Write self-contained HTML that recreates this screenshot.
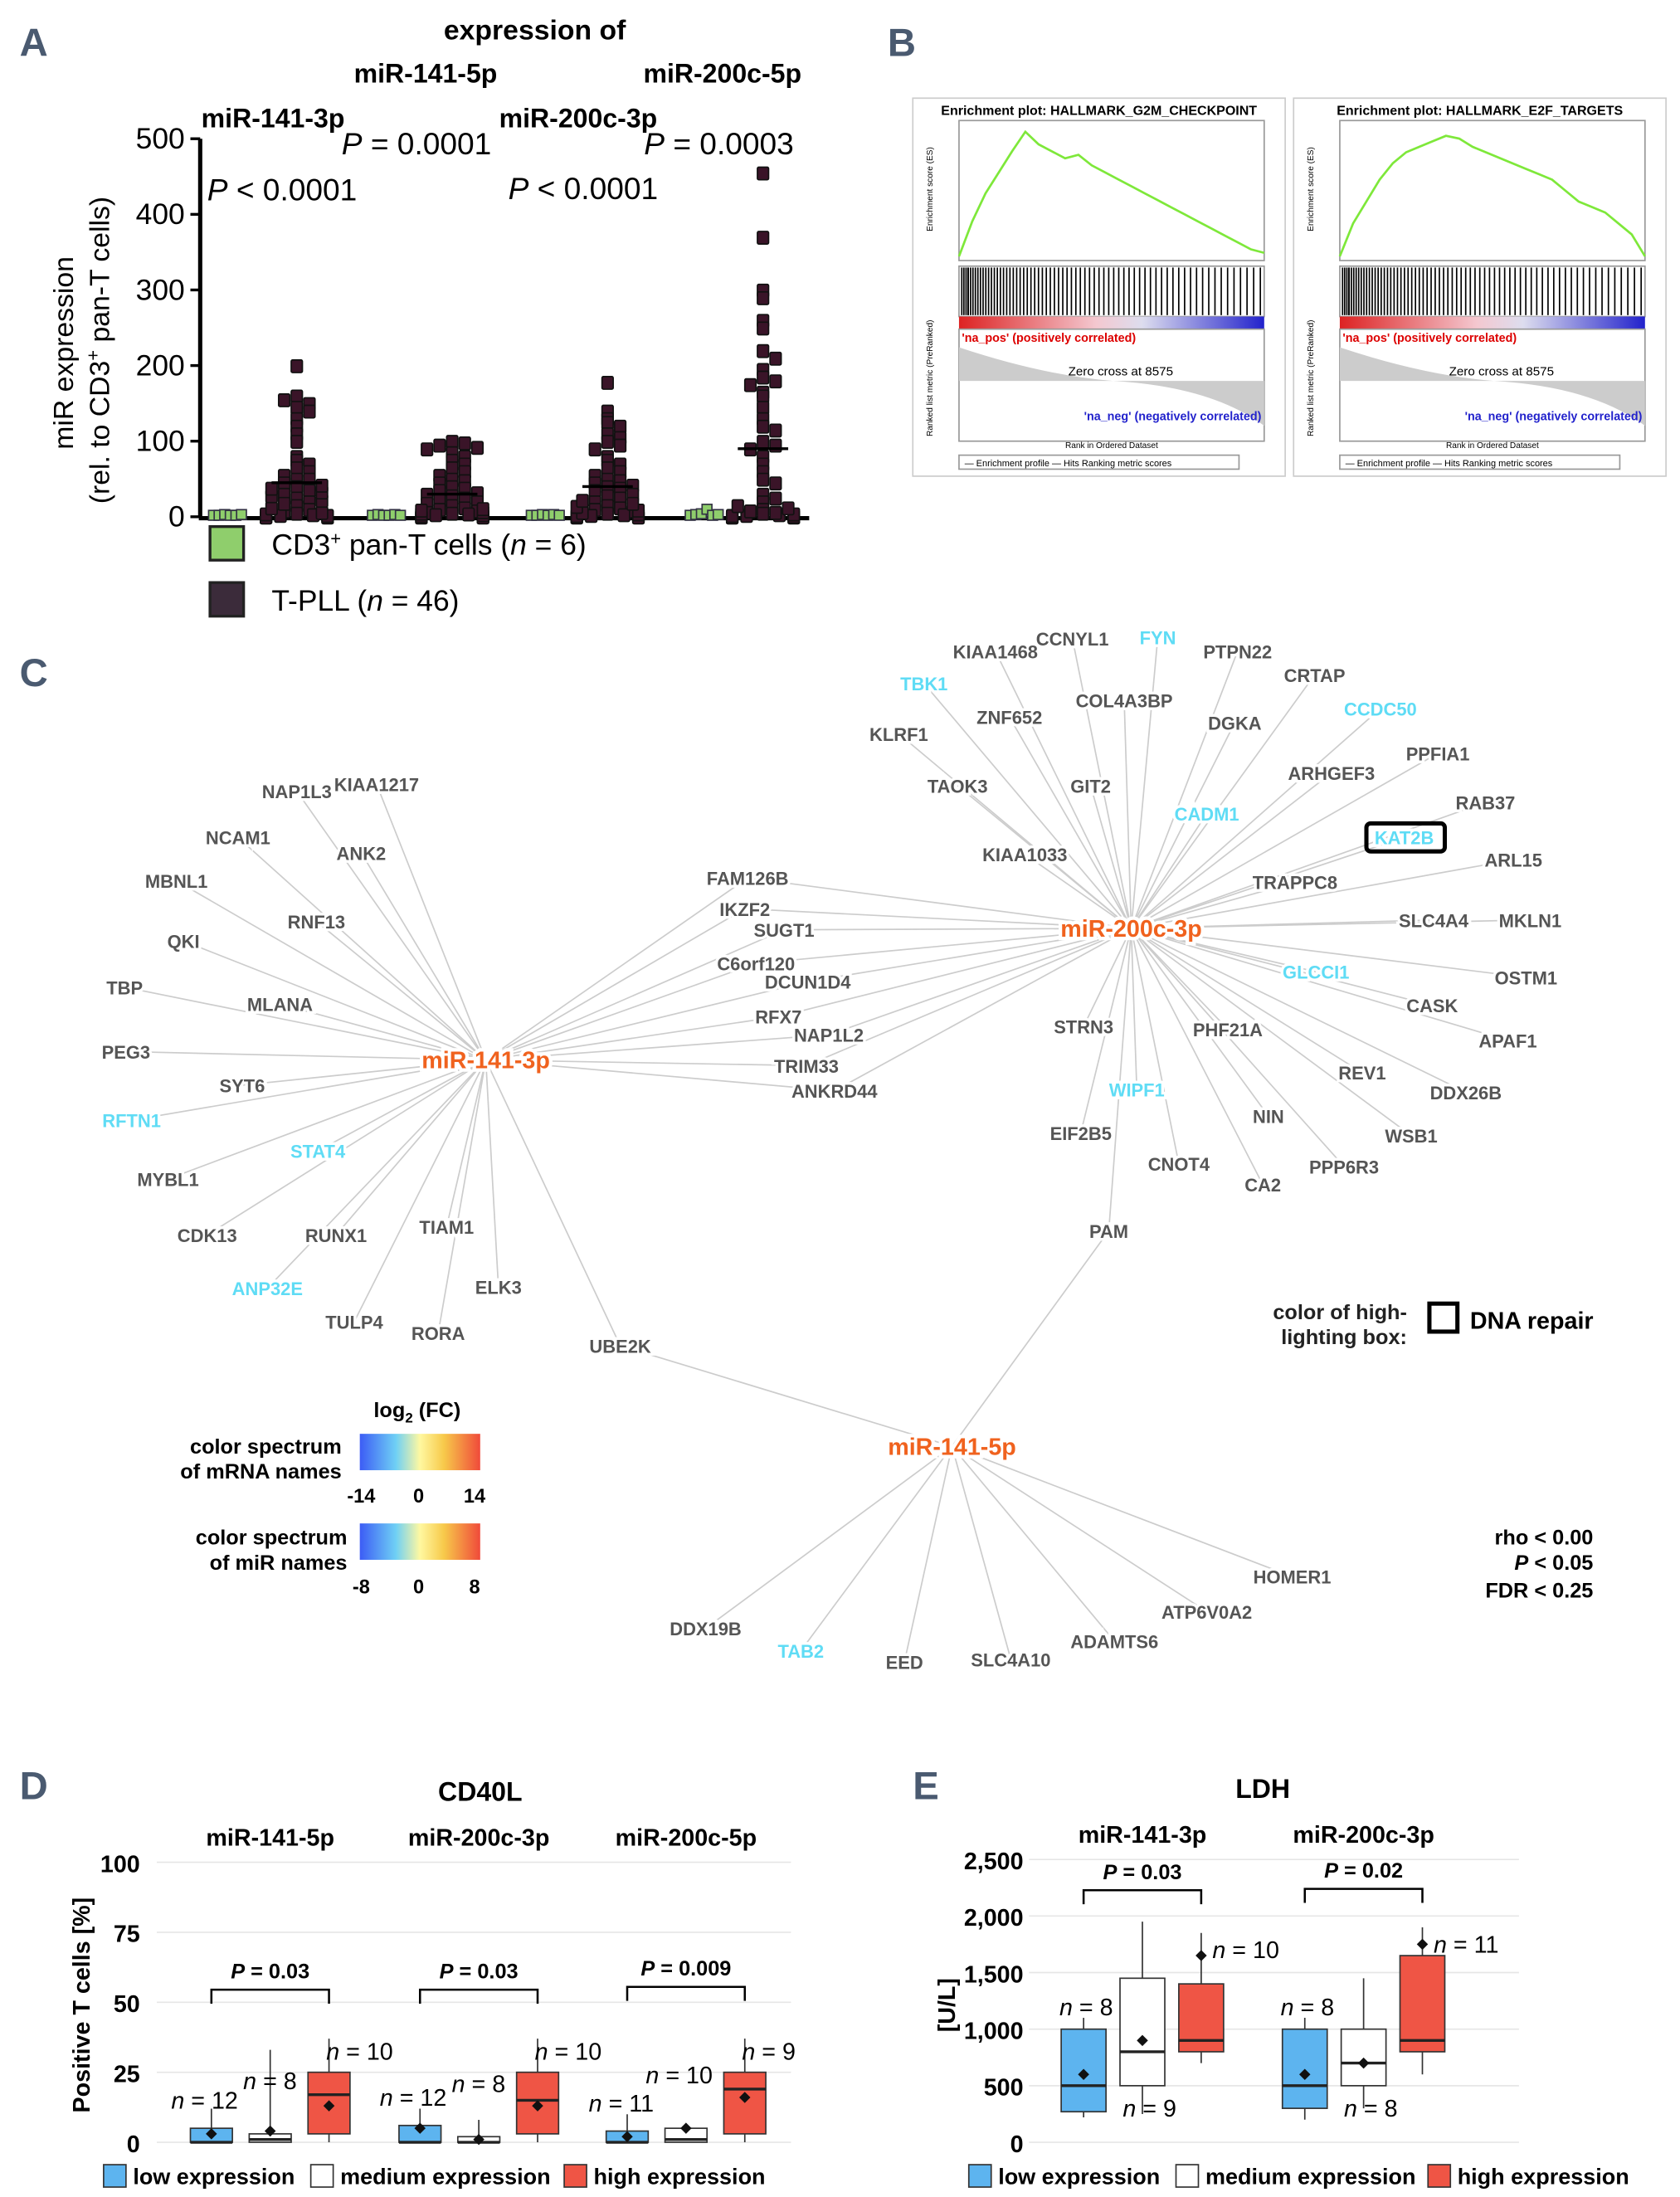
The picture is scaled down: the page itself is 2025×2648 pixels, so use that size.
<!DOCTYPE html>
<html><head><meta charset="utf-8"><style>
html,body{margin:0;padding:0;background:#fff;}
svg{display:block;font-family:"Liberation Sans",Arial,sans-serif;}
.lbl{font-size:13px;font-weight:bold;fill:#555;paint-order:stroke;stroke:#fff;stroke-width:4px;}
.cy{fill:#5fdcf5;}
.hub{font-size:17px;font-weight:bold;fill:#f0621e;paint-order:stroke;stroke:#fff;stroke-width:5px;}
.pl{font-family:"Liberation Sans Narrow","Liberation Sans",sans-serif;font-size:28px;font-weight:bold;fill:#4a5a70;}
</style></head><body>
<svg id="fig" width="2025" height="2648" viewBox="0 0 1200 1569" xmlns="http://www.w3.org/2000/svg">
<text class="pl" x="14" y="40">A</text>
<text class="pl" x="634" y="40">B</text>
<text class="pl" x="14" y="490">C</text>
<text class="pl" x="14" y="1285">D</text>
<text class="pl" x="652" y="1285">E</text>

<!-- Panel A -->
<g id="pa">
<text x="382" y="28" font-size="20" font-weight="bold" text-anchor="middle">expression of</text>
<text x="195" y="91" font-size="19" font-weight="bold" text-anchor="middle">miR-141-3p</text>
<text x="304" y="59" font-size="19" font-weight="bold" text-anchor="middle">miR-141-5p</text>
<text x="413" y="91" font-size="19" font-weight="bold" text-anchor="middle">miR-200c-3p</text>
<text x="516" y="59" font-size="19" font-weight="bold" text-anchor="middle">miR-200c-5p</text>
<text x="148" y="143" font-size="22"><tspan font-style="italic">P</tspan> &lt; 0.0001</text>
<text x="244" y="110" font-size="22"><tspan font-style="italic">P</tspan> = 0.0001</text>
<text x="363" y="142" font-size="22"><tspan font-style="italic">P</tspan> &lt; 0.0001</text>
<text x="460" y="110" font-size="22"><tspan font-style="italic">P</tspan> = 0.0003</text>
<text transform="translate(52,252) rotate(-90)" font-size="20" text-anchor="middle">miR expression</text>
<text transform="translate(78,250) rotate(-90)" font-size="20" text-anchor="middle">(rel. to CD3<tspan baseline-shift="super" font-size="13">+</tspan> pan-T cells)</text>
<g id="aAxis"></g>
<g id="aPts"></g>
<rect x="150" y="376" width="24" height="24" fill="#8fce6c" stroke="#222" stroke-width="2"/>
<text x="194" y="396" font-size="21">CD3<tspan baseline-shift="super" font-size="13">+</tspan> pan-T cells (<tspan font-style="italic">n</tspan> = 6)</text>
<rect x="150" y="416" width="24" height="24" fill="#3b2b3a" stroke="#222" stroke-width="2"/>
<text x="194" y="436" font-size="21">T-PLL (<tspan font-style="italic">n</tspan> = 46)</text>
</g>

<!-- Panel B -->
<g id="pb"></g>

<!-- Panel C -->
<g id="pc">
<g id="cLines"></g><g id="cLabels"></g>
<text class="hub" x="347" y="763" text-anchor="middle">miR-141-3p</text>
<text class="hub" x="808" y="669" text-anchor="middle">miR-200c-3p</text>
<text class="hub" x="680" y="1039" text-anchor="middle">miR-141-5p</text>
<rect x="976" y="588" width="56" height="20" rx="3" fill="none" stroke="#000" stroke-width="3"/>
<text x="1005" y="942" font-size="15" font-weight="bold" text-anchor="end" fill="#222">color of high-</text>
<text x="1005" y="960" font-size="15" font-weight="bold" text-anchor="end" fill="#222">lighting box:</text>
<rect x="1021" y="931" width="20" height="20" fill="none" stroke="#000" stroke-width="3"/>
<text x="1050" y="949" font-size="17" font-weight="bold">DNA repair</text>
<defs><linearGradient id="sp" x1="0" x2="1"><stop offset="0" stop-color="#3c5cf5"/><stop offset="0.3" stop-color="#6fd0f5"/><stop offset="0.5" stop-color="#fff8a0"/><stop offset="0.7" stop-color="#f7c94a"/><stop offset="1" stop-color="#f04a3a"/></linearGradient></defs>
<text x="298" y="1012" font-size="15" font-weight="bold" text-anchor="middle">log<tspan font-size="10" dy="4">2</tspan><tspan dy="-4"> (FC)</tspan></text>
<text x="244" y="1038" font-size="15" font-weight="bold" text-anchor="end">color spectrum</text>
<text x="244" y="1056" font-size="15" font-weight="bold" text-anchor="end">of mRNA names</text>
<rect x="257" y="1024" width="86" height="26" fill="url(#sp)"/>
<text x="258" y="1073" font-size="14" font-weight="bold" text-anchor="middle">-14</text>
<text x="299" y="1073" font-size="14" font-weight="bold" text-anchor="middle">0</text>
<text x="339" y="1073" font-size="14" font-weight="bold" text-anchor="middle">14</text>
<text x="248" y="1103" font-size="15" font-weight="bold" text-anchor="end">color spectrum</text>
<text x="248" y="1121" font-size="15" font-weight="bold" text-anchor="end">of miR names</text>
<rect x="257" y="1088" width="86" height="26" fill="url(#sp)"/>
<text x="258" y="1138" font-size="14" font-weight="bold" text-anchor="middle">-8</text>
<text x="299" y="1138" font-size="14" font-weight="bold" text-anchor="middle">0</text>
<text x="339" y="1138" font-size="14" font-weight="bold" text-anchor="middle">8</text>
<text x="1138" y="1103" font-size="15" font-weight="bold" text-anchor="end">rho &lt; 0.00</text>
<text x="1138" y="1121" font-size="15" font-weight="bold" text-anchor="end"><tspan font-style="italic">P</tspan> &lt; 0.05</text>
<text x="1138" y="1141" font-size="15" font-weight="bold" text-anchor="end">FDR &lt; 0.25</text>
</g>

<!-- Panel D -->
<g id="pd">
<text x="343" y="1286" font-size="19" font-weight="bold" text-anchor="middle">CD40L</text>
<text transform="translate(64,1432) rotate(-90)" font-size="17" font-weight="bold" text-anchor="middle">Positive T cells [%]</text>
<g id="dG"></g>
</g>
<!-- Panel E -->
<g id="pe">
<text x="902" y="1284" font-size="19" font-weight="bold" text-anchor="middle">LDH</text>
<text transform="translate(682,1432) rotate(-90)" font-size="17" font-weight="bold" text-anchor="middle">[U/L]</text>
<g id="eG"></g>
</g>
<g id="legDE"></g>
</svg>
<script>
const NS="http://www.w3.org/2000/svg";
function mk(p,t,a,txt){const e=document.createElementNS(NS,t);for(const k in a)e.setAttribute(k,a[k]);if(txt!==undefined)e.textContent=txt;p.appendChild(e);return e;}
const $=id=>document.getElementById(id);

// ---------- Panel A data ----------
const aTicks=[0,100,200,300,400,500];
const aGroups=["miR-141-3p","miR-141-5p","miR-200c-3p","miR-200c-5p"];
const aMeans=[45,30,40,90];
const aCtrl141_3p=[1,1,2,1,1,2];
const aCtrl141_5p=[1,2,1,1,2,1];
const aCtrl200c_3p=[1,1,2,1,2,1];
const aCtrl200c_5p=[1,2,3,9,1,2];
const aT141_3p=[200,160,150,145,140,155,130,120,110,100,80,75,70,65,60,55,50,50,45,40,35,30,25,20,15,10,8,5,3,2,1,0,0,0,0,0,2,4,6,12,18,22,28,33,38,42];
const aT141_5p=[100,98,95,92,90,85,80,75,70,65,60,55,50,48,45,40,38,35,32,30,28,25,22,20,18,15,12,10,8,6,5,4,3,2,1,1,0,0,0,0,2,3,5,7,9,11];
const aT200c_3p=[178,140,130,125,120,110,105,100,95,90,80,75,70,65,60,55,50,48,45,42,40,38,35,30,28,25,20,15,12,10,8,5,3,2,1,0,0,0,0,2,4,6,9,14,18,22];
const aT200c_5p=[455,370,300,290,260,250,220,210,195,185,180,175,165,160,145,130,120,115,100,95,90,80,70,60,50,45,30,20,10,5,3,2,1,0,0,0,0,0,1,2,4,6,8,12,15,25];
const aCtrl=[aCtrl141_3p,aCtrl141_5p,aCtrl200c_3p,aCtrl200c_5p];
const aTum=[aT141_3p,aT141_5p,aT200c_3p,aT200c_5p];
const ay=v=>369-v*0.54;
const axC=i=>162+i*113.5, axT=i=>212+i*111;
(function(){
 const g=$('aAxis');
 mk(g,'line',{x1:143,y1:99,x2:143,y2:370,stroke:'#000','stroke-width':3,});
 mk(g,'line',{x1:142,y1:370,x2:578,y2:370,stroke:'#000','stroke-width':3,});
 aTicks.forEach(t=>{mk(g,'line',{x1:136,x2:143,y1:ay(t),y2:ay(t),stroke:'#000','stroke-width':2});
  const tx=mk(g,'text',{x:132,y:ay(t)+7,'font-size':21,'text-anchor':'end'},t);
  
  });
 const p=$('aPts');
 aGroups.forEach((gname,i)=>{
  aCtrl[i].forEach((v,j)=>{const r=mk(p,'rect',{x:axC(i)-11+j*4-2,y:ay(v)-4,width:7,height:7,fill:'#8fce6c',stroke:'#334','stroke-width':1});
   
   });
  const cnt={};
  aTum[i].forEach((v,j)=>{const b=Math.round(v/12);cnt[b]=(cnt[b]||0)+1;const k=cnt[b]-1;
   const off=(k%2?1:-1)*Math.ceil(k/2)*9*(v<5?1.3:1);
   const r=mk(p,'rect',{x:axT(i)+Math.max(-22,Math.min(22,off))-4,y:ay(v)-4,width:8,height:9,fill:'#3a1428',stroke:'#111','stroke-width':1,rx:1});
   
   });
  const m=mk(p,'line',{x1:axT(i)-18,x2:axT(i)+18,y1:ay(aMeans[i]),y2:ay(aMeans[i]),stroke:'#000','stroke-width':2});
  
  
 });
})();

// ---------- Panel B ----------
const bTitles=["Enrichment plot: HALLMARK_G2M_CHECKPOINT","Enrichment plot: HALLMARK_E2F_TARGETS"];
const bES1=[0,0.05,0.09,0.12,0.15,0.178,0.16,0.15,0.14,0.145,0.13,0.12,0.11,0.1,0.09,0.08,0.07,0.06,0.05,0.04,0.03,0.02,0.01,0.005];
const bES2=[0,0.06,0.1,0.14,0.17,0.19,0.2,0.21,0.22,0.215,0.2,0.19,0.18,0.17,0.16,0.15,0.14,0.12,0.1,0.09,0.08,0.06,0.04,0.0];
const bMax=[0.18,0.23];
(function(){
 const g=$('pb');const xs=[652,924];const ess=[bES1,bES2];
 xs.forEach((x0,k)=>{
  const w=266;
  mk(g,'rect',{x:x0,y:70,width:w,height:270,fill:'#fff',stroke:'#ccc'});
  mk(g,'text',{x:x0+w/2,y:82,'font-size':9.5,'font-weight':'bold','text-anchor':'middle'},bTitles[k]);
  const px=x0+33, pw=218;
  mk(g,'rect',{x:px,y:86,width:pw,height:100,fill:'none',stroke:'#999'});
  const es=ess[k];
  const pts=es.map((v,i)=>(px+i*pw/(es.length-1))+','+(183-v/bMax[k]*90)).join(' ');
  const pl=mk(g,'polyline',{points:pts,fill:'none',stroke:'#7ee83a','stroke-width':1.6});
  
  
  mk(g,'rect',{x:px,y:190,width:pw,height:36,fill:'#fff',stroke:'#999'});
  for(let i=0;i<70;i++){const xx=px+2+(i*i*0.025+i*1.5)%pw*0.98;mk(g,'line',{x1:xx,x2:xx,y1:191,y2:225,stroke:'#000','stroke-width':1});}
  const gr=mk(g,'defs',{});const lg=mk(gr,'linearGradient',{id:'hm'+k});
  mk(lg,'stop',{offset:0,'stop-color':'#d22'});mk(lg,'stop',{offset:0.45,'stop-color':'#f4c8d0'});mk(lg,'stop',{offset:0.6,'stop-color':'#dde'});mk(lg,'stop',{offset:1,'stop-color':'#22c'});
  mk(g,'rect',{x:px,y:226,width:pw,height:9,fill:'url(#hm'+k+')'});
  mk(g,'rect',{x:px,y:235,width:pw,height:80,fill:'none',stroke:'#999'});
  mk(g,'path',{d:`M${px},248 Q${px+60},268 ${px+110},272 Q${px+180},276 ${px+pw},304 L${px+pw},272 L${px},272Z`,fill:'#ccc'});
  mk(g,'text',{x:px+2,y:244,'font-size':8.5,'font-weight':'bold',fill:'#d00'},"'na_pos' (positively correlated)");
  mk(g,'text',{x:px+78,y:268,'font-size':9},"Zero cross at 8575");
  mk(g,'text',{x:px+pw-2,y:300,'font-size':8.5,'font-weight':'bold',fill:'#22c','text-anchor':'end'},"'na_neg' (negatively correlated)");
  mk(g,'text',{x:px+pw/2,y:320,'font-size':6,'text-anchor':'middle'},"Rank in Ordered Dataset");
  mk(g,'rect',{x:px,y:325,width:200,height:10,fill:'#fff',stroke:'#999'});
  mk(g,'text',{x:px+4,y:333,'font-size':6.5},"— Enrichment profile — Hits        Ranking metric scores");
  mk(g,'text',{transform:`translate(${x0+14},135) rotate(-90)`,'font-size':6,'text-anchor':'middle'},"Enrichment score (ES)");
  mk(g,'text',{transform:`translate(${x0+14},270) rotate(-90)`,'font-size':6,'text-anchor':'middle'},"Ranked list metric (PreRanked)");
 });
})();

// ---------- Panel C ----------
const cNodes=[
["NAP1L3",212,570,0,"a"],["KIAA1217",269,565,0,"a"],["NCAM1",170,603,0,"a"],["ANK2",258,614,0,"a"],["MBNL1",126,634,0,"a"],["RNF13",226,663,0,"a"],["QKI",131,677,0,"a"],["TBP",89,710,0,"a"],["MLANA",200,722,0,"a"],["PEG3",90,756,0,"a"],["SYT6",173,780,0,"a"],["RFTN1",94,805,1,"a"],["STAT4",227,827,1,"a"],["MYBL1",120,847,0,"a"],["CDK13",148,887,0,"a"],["RUNX1",240,887,0,"a"],["TIAM1",319,881,0,"a"],["ANP32E",191,925,1,"a"],["ELK3",356,924,0,"a"],["TULP4",253,949,0,"a"],["RORA",313,957,0,"a"],["UBE2K",443,966,0,"ac"],
["FAM126B",534,632,0,"ab"],["IKZF2",532,654,0,"ab"],["SUGT1",560,669,0,"ab"],["C6orf120",540,693,0,"ab"],["DCUN1D4",577,706,0,"ab"],["RFX7",556,731,0,"ab"],["NAP1L2",592,744,0,"ab"],["TRIM33",576,766,0,"ab"],["ANKRD44",596,784,0,"ab"],
["KIAA1468",711,470,0,"b"],["CCNYL1",766,461,0,"b"],["FYN",827,460,1,"b"],["PTPN22",884,470,0,"b"],["TBK1",660,493,1,"b"],["CRTAP",939,487,0,"b"],["COL4A3BP",803,505,0,"b"],["ZNF652",721,517,0,"b"],["DGKA",882,521,0,"b"],["CCDC50",986,511,1,"b"],["KLRF1",642,529,0,"b"],["PPFIA1",1027,543,0,"b"],["TAOK3",684,566,0,"b"],["GIT2",779,566,0,"b"],["ARHGEF3",951,557,0,"b"],["CADM1",862,586,1,"b"],["RAB37",1061,578,0,"b"],["KAT2B",1003,603,1,"b"],["KIAA1033",732,615,0,"b"],["ARL15",1081,619,0,"b"],["TRAPPC8",925,635,0,"b"],["SLC4A4",1024,662,0,"b"],["MKLN1",1093,662,0,"b"],["GLCCI1",940,699,1,"b"],["OSTM1",1090,703,0,"b"],["CASK",1023,723,0,"b"],["STRN3",774,738,0,"b"],["PHF21A",877,740,0,"b"],["APAF1",1077,748,0,"b"],["REV1",973,771,0,"b"],["WIPF1",812,783,1,"b"],["DDX26B",1047,785,0,"b"],["EIF2B5",772,814,0,"b"],["NIN",906,802,0,"b"],["WSB1",1008,816,0,"b"],["CNOT4",842,836,0,"b"],["PPP6R3",960,838,0,"b"],["CA2",902,851,0,"b"],["PAM",792,884,0,"bc"],
["HOMER1",923,1131,0,"c"],["ATP6V0A2",862,1156,0,"c"],["ADAMTS6",796,1177,0,"c"],["SLC4A10",722,1190,0,"c"],["EED",646,1192,0,"c"],["TAB2",572,1184,1,"c"],["DDX19B",504,1168,0,"c"]];
const cHubs={a:[347,757],b:[808,663],c:[680,1033]};
(function(){
 const L=$('cLines'),T=$('cLabels');
 cNodes.forEach(n=>{
  for(const h of n[4]){const l=mk(L,'line',{x1:n[1],y1:n[2]-5,x2:cHubs[h][0],y2:cHubs[h][1],stroke:'#ccc','stroke-width':1});
   
   }
  const t=mk(T,'text',{x:n[1],y:n[2],class:'lbl'+(n[3]?' cy':''),'text-anchor':'middle'},n[0]);
  
  
 });
})();

// ---------- Panel D/E box plots ----------
const dTicks=[0,25,50,75,100];
const dGroups=["miR-141-5p","miR-200c-3p","miR-200c-5p"];
// per box: [lowWhisk,q1,median,q3,highWhisk,mean]
const dBoxes=[[0,0,0,5,12,3],[0,0,1,3,33,4],[0,3,17,25,37,13],
              [0,0,0,6,12,5],[0,0,0,2,8,1],[0,3,15,25,37,13],
              [0,0,0,4,10,2],[0,0,1,5,6,5],[0,3,19,25,37,16]];
const dN=["12","8","10","12","8","10","11","10","9"];
const dP=["0.03","0.03","0.009"];
const eTicks=[0,500,1000,1500,2000,2500];
const eGroups=["miR-141-3p","miR-200c-3p"];
const eBoxes=[[220,270,500,1000,1100,600],[250,500,800,1450,1950,900],[700,800,900,1400,1850,1650],
              [200,300,500,1000,1100,600],[300,500,700,1000,1450,700],[600,800,900,1650,1900,1750]];
const eN=["8","9","10","8","8","11"];
const eP=["0.03","0.02"];
const fills=['#5db4ef','#fff','#ef5545'];
function nPos(mode,k,x,bw,b,yS){
 if(mode==='d'){
  if(k===0) return [x+bw+4,yS(b[3])-14,'end'];
  if(k===1) return [x+bw+4,yS(b[3])-32,'end'];
  return [x+bw/2-2,yS(b[4])+15,'start'];
 }
 if(k===0) return [x+bw+5,yS(b[3])-10,'end'];
 if(k===1) return [x+2,yS(b[1])+22,'start'];
 return [x+bw-8,yS(b[4])+18,'start'];
}
function boxPanel(g,mode,ticks,tmax,y0,y1,xL,xR,groups,boxes,ns,ps,gx,bw,gap,tickfmt,pIdx,tickX){
 const yS=v=>y0-(v/tmax)*(y0-y1);
 ticks.forEach(t=>{mk(g,'line',{x1:xL,x2:xR,y1:yS(t),y2:yS(t),stroke:'#e6e6e6','stroke-width':1});
  const tx=mk(g,'text',{x:tickX,y:yS(t)+7,'font-size':17,'font-weight':'bold','text-anchor':'end'},tickfmt(t));
  
  });
 groups.forEach((gn,gi)=>{
  const cx=gx[gi];
  const tt=mk(g,'text',{x:cx+bw+gap+bw/2,y:y1-12,'font-size':17,'font-weight':'bold','text-anchor':'middle'},gn);
  
  
  for(let k=0;k<3;k++){
   const b=boxes[gi*3+k],x=cx+k*(bw+gap);
   mk(g,'line',{x1:x+bw/2,x2:x+bw/2,y1:yS(b[0]),y2:yS(b[4]),stroke:'#333','stroke-width':1});
   const r=mk(g,'rect',{x:x,y:yS(b[3]),width:bw,height:Math.max(1,yS(b[1])-yS(b[3])),fill:fills[k],stroke:'#333','stroke-width':1});
   
   
   mk(g,'line',{x1:x,x2:x+bw,y1:yS(b[2]),y2:yS(b[2]),stroke:'#222','stroke-width':2});
   const m=mk(g,'path',{d:`M${x+bw/2},${yS(b[5])-4} l4,4 l-4,4 l-4,-4z`,fill:'#111'});
   
   
   const np=nPos(mode,k,x,bw,b,yS);
   const nt=mk(g,'text',{x:np[0],y:np[1],'font-size':17,'text-anchor':np[2]});
   nt.innerHTML='<tspan font-style="italic">n</tspan> = '+ns[gi*3+k];
   
   
  }
  const bx1=cx+bw/2,bx2=cx+2*(bw+gap)+bw/2,by=pIdx[gi];
  mk(g,'path',{d:`M${bx1},${by+10} V${by} H${bx2} V${by+10}`,fill:'none',stroke:'#000','stroke-width':1.5});
  const pt=mk(g,'text',{x:(bx1+bx2)/2,y:by-8,'font-size':15,'font-weight':'bold','text-anchor':'middle'});
  pt.innerHTML='<tspan font-style="italic">P</tspan> = '+ps[gi];
  
  
 });
}
boxPanel($('dG'),'d',dTicks,100,1530,1330,112,565,dGroups,dBoxes,dN,dP,[136,285,433],30,12,t=>t,[1421,1421,1419],100);
boxPanel($('eG'),'e',eTicks,2500,1530,1328,735,1085,eGroups,eBoxes,eN,eP,[758,916],32,10,t=>t>=1000?Math.floor(t/1000)+','+String(t%1000).padStart(3,'0'):String(t),[1350,1349],731);
(function(){
 const g=$('legDE');const labs=["low expression","medium expression","high expression"];
 const xs=[[74,222,403],[692,840,1020]];
 xs.forEach(row=>{row.forEach((x,k)=>{
  const r=mk(g,'rect',{x:x,y:1546,width:16,height:16,fill:fills[k],stroke:'#333'});
  
  
  const t=mk(g,'text',{x:x+21,y:1560,'font-size':16,'font-weight':'bold'},labs[k]);
  
  });});
})();
</script>
</body></html>
